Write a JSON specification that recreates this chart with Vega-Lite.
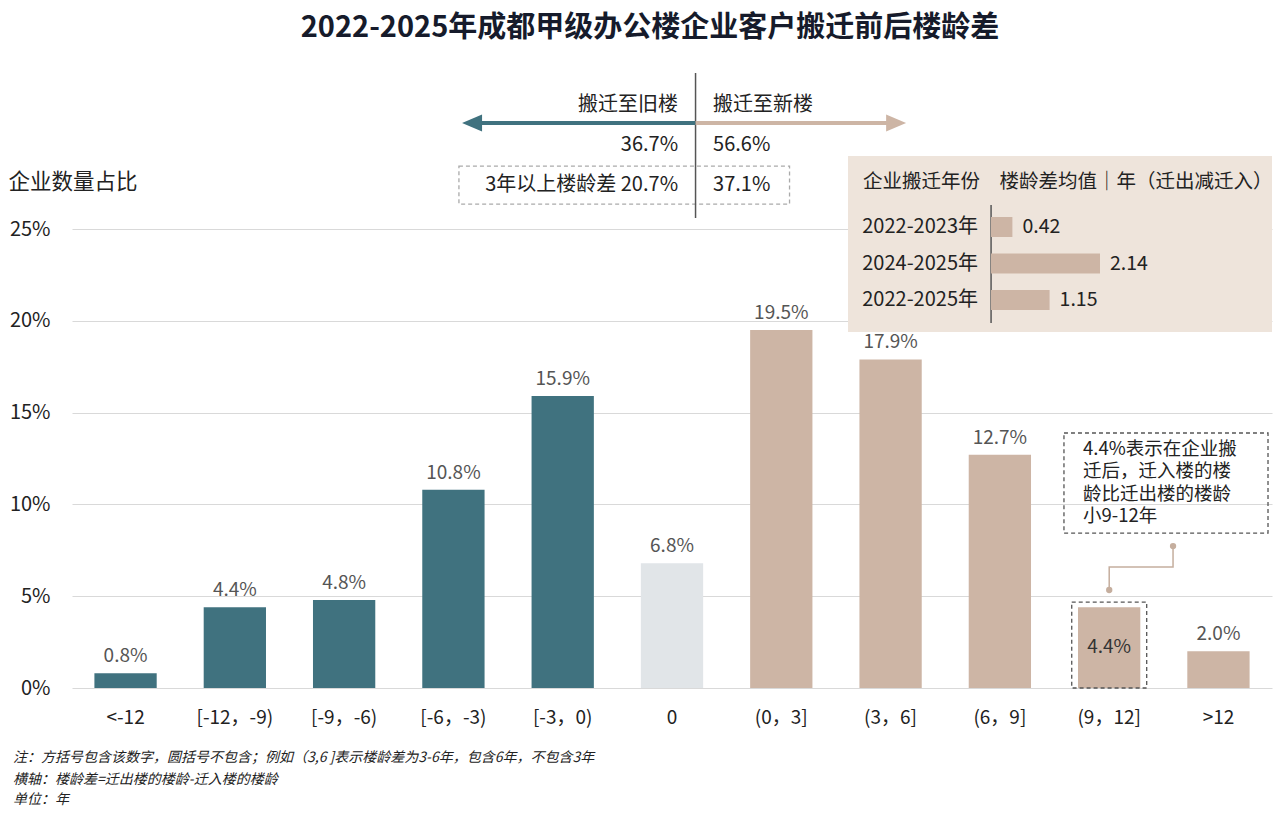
{
  "$schema": "https://vega.github.io/schema/vega-lite/v6.json",
  "width": 1200,
  "height": 613,
  "autosize": {"type": "none"},
  "padding": {"left": 72, "top": 75, "right": 8, "bottom": 127},
  "background": "#ffffff",
  "config": {
    "font": "Noto Sans CJK SC",
    "view": {"stroke": null},
    "text": {"font": "Noto Sans CJK SC"},
    "axis": {"labelFont": "Noto Sans CJK SC", "titleFont": "Noto Sans CJK SC"}
  },
  "title": {
    "text": "2022-2025年成都甲级办公楼企业客户搬迁前后楼龄差",
    "fontSize": 29,
    "fontWeight": "bold",
    "color": "#161B2B",
    "anchor": "middle",
    "dx": -22,
    "offset": 29
  },
  "datasets": {
    "bars": [
      {"cat": "<-12", "value": 0.008, "side": "旧楼"},
      {"cat": "[-12，-9)", "value": 0.044, "side": "旧楼"},
      {"cat": "[-9，-6)", "value": 0.048, "side": "旧楼"},
      {"cat": "[-6，-3)", "value": 0.108, "side": "旧楼"},
      {"cat": "[-3，0)", "value": 0.159, "side": "旧楼"},
      {"cat": "0", "value": 0.068, "side": "持平"},
      {"cat": "(0，3]", "value": 0.195, "side": "新楼"},
      {"cat": "(3，6]", "value": 0.179, "side": "新楼"},
      {"cat": "(6，9]", "value": 0.127, "side": "新楼"},
      {"cat": "(9，12]", "value": 0.044, "side": "新楼"},
      {"cat": ">12", "value": 0.020, "side": "新楼"}
    ],
    "inset": [
      {"period": "2022-2023年", "mean": 0.42},
      {"period": "2024-2025年", "mean": 2.14},
      {"period": "2022-2025年", "mean": 1.15}
    ],
    "panel": [
      {"x": 6.61, "x2": 10.4895, "y": 0.2898, "y2": 0.1939}
    ],
    "boxes": [
      {"kind": "summary", "x": 3.05, "x2": 6.075, "y": 0.2843, "y2": 0.2636},
      {"kind": "note", "x": 8.586, "x2": 10.453, "y": 0.1389, "y2": 0.0844},
      {"kind": "note", "x": 8.657, "x2": 9.343, "y": 0.0468, "y2": 0}
    ],
    "vrules": [
      {"x": 5.215, "y": 0.3350, "y2": 0.2560},
      {"x": 7.919, "y": 0.2631, "y2": 0.1988}
    ],
    "arrows": [
      {"side": "旧楼", "x": 5.215, "x2": 3.17, "y": 0.3077},
      {"side": "新楼", "x": 5.215, "x2": 7.05, "y": 0.3077}
    ],
    "connector": [
      {"x": 9.584, "y": 0.0773, "o": 1, "end": true},
      {"x": 9.584, "y": 0.0659, "o": 2, "end": false},
      {"x": 9.0, "y": 0.0659, "o": 3, "end": false},
      {"x": 9.0, "y": 0.0534, "o": 4, "end": true}
    ],
    "texts": [
      {"g": "right", "x": 5.055, "y": 0.3175, "t": "搬迁至旧楼"},
      {"g": "right", "x": 5.055, "y": 0.2958, "t": "36.7%"},
      {"g": "right", "x": 5.055, "y": 0.2740, "t": "3年以上楼龄差 20.7%"},
      {"g": "left", "x": 5.375, "y": 0.3175, "t": "搬迁至新楼"},
      {"g": "left", "x": 5.375, "y": 0.2958, "t": "56.6%"},
      {"g": "left", "x": 5.375, "y": 0.2740, "t": "37.1%"},
      {"g": "header", "x": 6.747, "y": 0.2756, "t": "企业搬迁年份　楼龄差均值｜年（迁出减迁入）"},
      {"g": "note", "x": 8.761, "y": 0.1350, "t": "4.4%表示在企业搬\n迁后，迁入楼的楼\n龄比迁出楼的楼龄\n小9-12年"},
      {"g": "foot", "x": -1.03, "y": -0.0381, "t": "注：方括号包含该数字，圆括号不包含；例如（3,6 ]表示楼龄差为3-6年，包含6年，不包含3年"},
      {"g": "foot", "x": -1.03, "y": -0.0501, "t": "横轴：楼龄差=迁出楼的楼龄-迁入楼的楼龄"},
      {"g": "foot", "x": -1.03, "y": -0.0610, "t": "单位：年"}
    ]
  },
  "resolve": {"scale": {"x": "independent", "y": "independent"}},
  "layer": [
    {
      "data": {"name": "panel"},
      "mark": {"type": "rect", "fill": "#EEE4DB"},
      "encoding": {
        "x": {"field": "x", "type": "quantitative", "scale": {"domain": [-0.4904, 10.4895], "nice": false, "zero": false}, "axis": null},
        "x2": {"field": "x2"},
        "y": {"field": "y", "type": "quantitative", "scale": {"domain": [0, 0.3339], "nice": false, "zero": false}, "axis": null},
        "y2": {"field": "y2"}
      }
    },
    {
      "data": {"name": "bars"},
      "layer": [
        {
          "mark": {"type": "bar"},
          "encoding": {
            "x": {
              "field": "cat", "type": "nominal", "sort": null,
              "scale": {"paddingInner": 0.43, "paddingOuter": 0.205},
              "axis": {
                "title": null, "labelAngle": 0, "labelFontSize": 19, "labelColor": "#222222",
                "labelPadding": 20, "ticks": false, "domain": false, "grid": false
              }
            },
            "y": {
              "field": "value", "type": "quantitative",
              "scale": {"domain": [0, 0.3339], "nice": false, "zero": true},
              "axis": {
                "values": [0, 0.05, 0.10, 0.15, 0.20, 0.25],
                "format": ".0%",
                "title": "企业数量占比",
                "titleAngle": 0, "titleAlign": "left", "titleBaseline": "middle",
                "titleX": -64, "titleY": 107, "titleFontSize": 21.5, "titleFontWeight": "normal", "titleColor": "#222222",
                "labelFontSize": 20, "labelColor": "#222222", "labelPadding": 22,
                "ticks": false, "domain": false,
                "grid": true, "gridColor": "#D9D9D9", "gridWidth": 1.2
              }
            },
            "color": {
              "field": "side", "type": "nominal",
              "scale": {"domain": ["旧楼", "持平", "新楼"], "range": ["#40727F", "#E1E5E8", "#CDB5A5"]},
              "legend": null
            }
          }
        },
        {
          "transform": [{"filter": "datum.cat !== '(9，12]'"}],
          "mark": {"type": "text", "dy": -17, "baseline": "middle", "fontSize": 19, "color": "#555555"},
          "encoding": {
            "x": {"field": "cat", "type": "nominal", "sort": null},
            "y": {"field": "value", "type": "quantitative"},
            "text": {"field": "value", "type": "quantitative", "format": ".1%"}
          }
        },
        {
          "transform": [{"filter": "datum.cat === '(9，12]'"}],
          "mark": {"type": "text", "dy": 40, "baseline": "middle", "fontSize": 19, "color": "#333333"},
          "encoding": {
            "x": {"field": "cat", "type": "nominal", "sort": null},
            "y": {"field": "value", "type": "quantitative"},
            "text": {"field": "value", "type": "quantitative", "format": ".1%"}
          }
        }
      ]
    },
    {
      "layer": [
        {
          "data": {"name": "boxes"},
          "mark": {"type": "rect", "fill": null, "fillOpacity": 0, "strokeDash": [4, 3], "strokeWidth": 1.3},
          "encoding": {
            "x": {"field": "x", "type": "quantitative", "scale": {"domain": [-0.4904, 10.4895], "nice": false, "zero": false}, "axis": null},
            "x2": {"field": "x2"},
            "y": {"field": "y", "type": "quantitative", "scale": {"domain": [0, 0.3339], "nice": false, "zero": false}, "axis": null},
            "y2": {"field": "y2"},
            "stroke": {"field": "kind", "type": "nominal", "scale": {"domain": ["summary", "note"], "range": ["#AAAAAA", "#555555"]}, "legend": null}
          }
        },
        {
          "data": {"name": "vrules"},
          "mark": {"type": "rule", "color": "#555555", "strokeWidth": 1.5},
          "encoding": {
            "x": {"field": "x", "type": "quantitative", "scale": {"domain": [-0.4904, 10.4895], "nice": false, "zero": false}, "axis": null},
            "y": {"field": "y", "type": "quantitative", "scale": {"domain": [0, 0.3339], "nice": false, "zero": false}, "axis": null},
            "y2": {"field": "y2"}
          }
        },
        {
          "data": {"name": "arrows"},
          "mark": {"type": "rule", "strokeWidth": 4},
          "encoding": {
            "x": {"field": "x", "type": "quantitative", "scale": {"domain": [-0.4904, 10.4895], "nice": false, "zero": false}, "axis": null},
            "x2": {"field": "x2"},
            "y": {"field": "y", "type": "quantitative", "scale": {"domain": [0, 0.3339], "nice": false, "zero": false}, "axis": null},
            "color": {"field": "side", "type": "nominal", "scale": {"domain": ["旧楼", "新楼"], "range": ["#40727F", "#CDB5A5"]}, "legend": null}
          }
        },
        {
          "data": {"name": "arrows"},
          "mark": {"type": "point", "filled": true, "size": 400, "opacity": 1},
          "encoding": {
            "x": {"field": "x2", "type": "quantitative", "scale": {"domain": [-0.4904, 10.4895], "nice": false, "zero": false}, "axis": null},
            "y": {"field": "y", "type": "quantitative", "scale": {"domain": [0, 0.3339], "nice": false, "zero": false}, "axis": null},
            "color": {"field": "side", "type": "nominal", "scale": {"domain": ["旧楼", "新楼"], "range": ["#40727F", "#CDB5A5"]}, "legend": null},
            "shape": {"field": "side", "type": "nominal", "scale": {"domain": ["旧楼", "新楼"], "range": ["M-1,0L1,-0.85L1,0.85Z", "M1,0L-1,-0.85L-1,0.85Z"]}, "legend": null}
          }
        },
        {
          "data": {"name": "connector"},
          "mark": {"type": "line", "color": "#C5AE9E", "strokeWidth": 1.5},
          "encoding": {
            "x": {"field": "x", "type": "quantitative", "scale": {"domain": [-0.4904, 10.4895], "nice": false, "zero": false}, "axis": null},
            "y": {"field": "y", "type": "quantitative", "scale": {"domain": [0, 0.3339], "nice": false, "zero": false}, "axis": null},
            "order": {"field": "o", "type": "quantitative"}
          }
        },
        {
          "data": {"name": "connector"},
          "transform": [{"filter": "datum.end"}],
          "mark": {"type": "circle", "color": "#C5AE9E", "size": 40, "opacity": 1},
          "encoding": {
            "x": {"field": "x", "type": "quantitative", "scale": {"domain": [-0.4904, 10.4895], "nice": false, "zero": false}, "axis": null},
            "y": {"field": "y", "type": "quantitative", "scale": {"domain": [0, 0.3339], "nice": false, "zero": false}, "axis": null}
          }
        },
        {
          "data": {"name": "texts"},
          "transform": [{"filter": "datum.g === 'right'"}],
          "mark": {"type": "text", "align": "right", "baseline": "middle", "fontSize": 20, "color": "#222222"},
          "encoding": {
            "x": {"field": "x", "type": "quantitative", "scale": {"domain": [-0.4904, 10.4895], "nice": false, "zero": false}, "axis": null},
            "y": {"field": "y", "type": "quantitative", "scale": {"domain": [0, 0.3339], "nice": false, "zero": false}, "axis": null},
            "text": {"field": "t"}
          }
        },
        {
          "data": {"name": "texts"},
          "transform": [{"filter": "datum.g === 'left'"}],
          "mark": {"type": "text", "align": "left", "baseline": "middle", "fontSize": 20, "color": "#222222"},
          "encoding": {
            "x": {"field": "x", "type": "quantitative", "scale": {"domain": [-0.4904, 10.4895], "nice": false, "zero": false}, "axis": null},
            "y": {"field": "y", "type": "quantitative", "scale": {"domain": [0, 0.3339], "nice": false, "zero": false}, "axis": null},
            "text": {"field": "t"}
          }
        },
        {
          "data": {"name": "texts"},
          "transform": [{"filter": "datum.g === 'header'"}],
          "mark": {"type": "text", "align": "left", "baseline": "middle", "fontSize": 19.5, "color": "#222222"},
          "encoding": {
            "x": {"field": "x", "type": "quantitative", "scale": {"domain": [-0.4904, 10.4895], "nice": false, "zero": false}, "axis": null},
            "y": {"field": "y", "type": "quantitative", "scale": {"domain": [0, 0.3339], "nice": false, "zero": false}, "axis": null},
            "text": {"field": "t"}
          }
        },
        {
          "data": {"name": "texts"},
          "transform": [{"filter": "datum.g === 'note'"}],
          "mark": {"type": "text", "align": "left", "baseline": "top", "lineBreak": "\n", "lineHeight": 22.3, "fontSize": 18.5, "color": "#222222"},
          "encoding": {
            "x": {"field": "x", "type": "quantitative", "scale": {"domain": [-0.4904, 10.4895], "nice": false, "zero": false}, "axis": null},
            "y": {"field": "y", "type": "quantitative", "scale": {"domain": [0, 0.3339], "nice": false, "zero": false}, "axis": null},
            "text": {"field": "t"}
          }
        },
        {
          "data": {"name": "texts"},
          "transform": [{"filter": "datum.g === 'foot'"}],
          "mark": {"type": "text", "align": "left", "baseline": "middle", "fontSize": 14, "fontStyle": "italic", "color": "#222222"},
          "encoding": {
            "x": {"field": "x", "type": "quantitative", "scale": {"domain": [-0.4904, 10.4895], "nice": false, "zero": false}, "axis": null},
            "y": {"field": "y", "type": "quantitative", "scale": {"domain": [0, 0.3339], "nice": false, "zero": false}, "axis": null},
            "text": {"field": "t"}
          }
        }
      ]
    },
    {
      "data": {"name": "inset"},
      "layer": [
        {
          "mark": {"type": "bar", "color": "#CDB5A5"},
          "encoding": {
            "x": {"field": "mean", "type": "quantitative", "scale": {"domain": [0, 2.14], "range": [919, 1028], "nice": false, "zero": true}, "axis": null},
            "y": {"field": "period", "type": "nominal", "sort": null, "scale": {"range": [133.75, 243.25], "paddingInner": 0.452, "paddingOuter": 0.226}, "axis": null}
          }
        },
        {
          "mark": {"type": "text", "align": "right", "baseline": "middle", "dx": -13, "fontSize": 20, "color": "#222222"},
          "encoding": {
            "x": {"datum": 0, "type": "quantitative"},
            "y": {"field": "period", "type": "nominal", "sort": null},
            "text": {"field": "period"}
          }
        },
        {
          "mark": {"type": "text", "align": "left", "baseline": "middle", "dx": 10, "fontSize": 19.5, "color": "#222222"},
          "encoding": {
            "x": {"field": "mean", "type": "quantitative"},
            "y": {"field": "period", "type": "nominal", "sort": null},
            "text": {"field": "mean", "type": "quantitative", "format": ".2f"}
          }
        }
      ]
    }
  ]
}
